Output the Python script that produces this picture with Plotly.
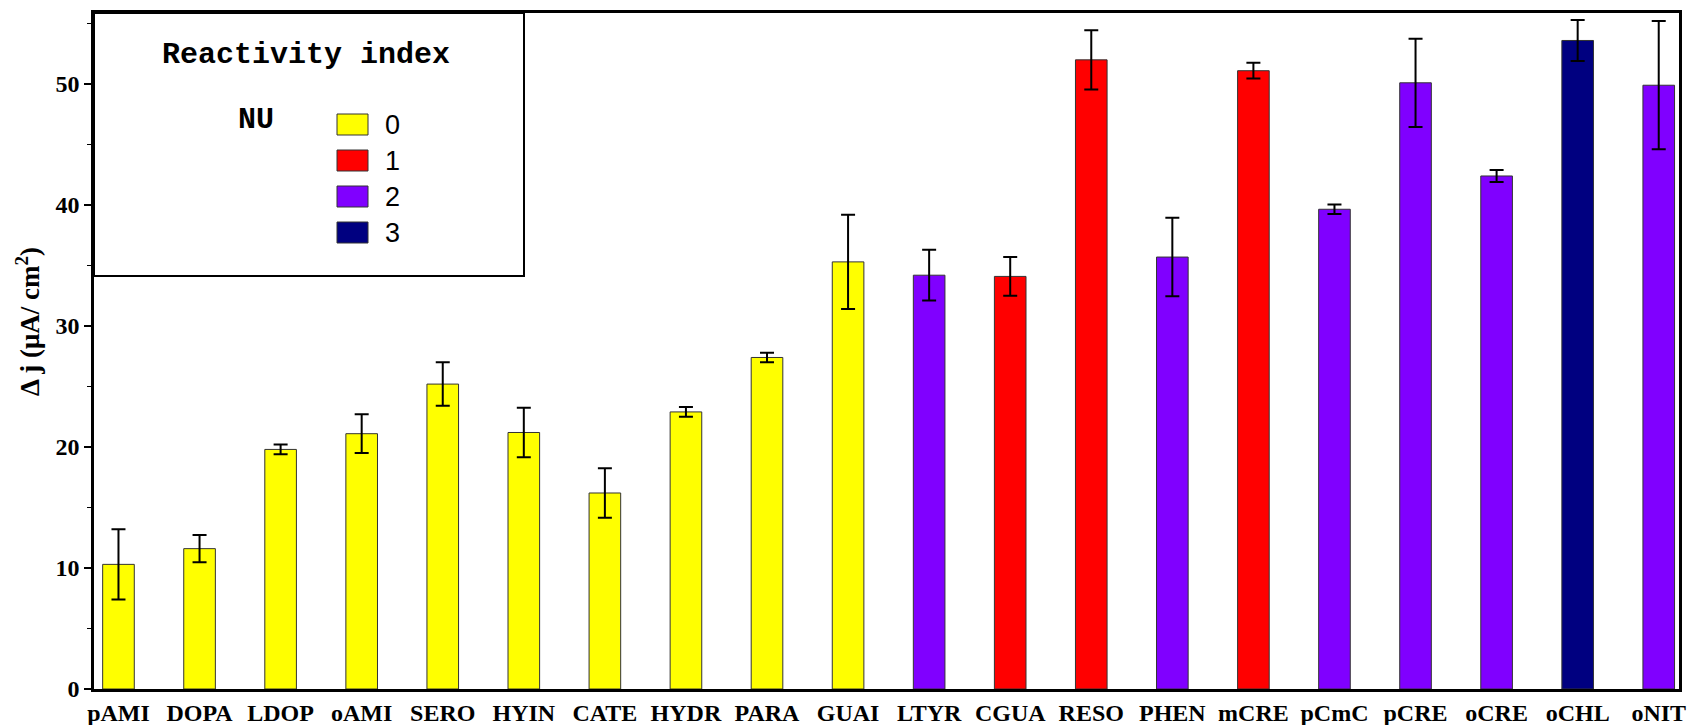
import plotly.graph_objects as go

# ---- data ----
compounds = ["pAMI", "DOPA", "LDOP", "oAMI", "SERO", "HYIN", "CATE", "HYDR", "PARA", "GUAI",
             "LTYR", "CGUA", "RESO", "PHEN", "mCRE", "pCmC", "pCRE", "oCRE", "oCHL", "oNIT"]
delta_j = [10.3, 11.6, 19.8, 21.1, 25.2, 21.2, 16.2, 22.9, 27.4, 35.3,
           34.2, 34.1, 52.0, 35.7, 51.1, 39.65, 50.1, 42.4, 53.6, 49.9]
errors = [2.9, 1.13, 0.4, 1.6, 1.8, 2.05, 2.05, 0.4, 0.4, 3.9,
          2.1, 1.6, 2.45, 3.25, 0.65, 0.4, 3.65, 0.5, 1.7, 5.3]
nu_index = [0, 0, 0, 0, 0, 0, 0, 0, 0, 0,
            2, 1, 1, 2, 1, 2, 2, 2, 3, 2]
nu_levels = ["0", "1", "2", "3"]
nu_colors = ["#FFFF00", "#FF0000", "#8000FF", "#000080"]
y_ticks = [0, 10, 20, 30, 40, 50]

# ---- geometry (pixels) ----
W, H = 1688, 725
L, R, T, B = 94, 1679, 13, 689


def px(x):
    return (x - L) / (R - L)


def py(y):
    return (B - y) / (B - T)


fig = go.Figure()
fig.add_trace(go.Bar(
    x=compounds, y=delta_j, width=0.39,
    marker=dict(color=[nu_colors[i] for i in nu_index], line=dict(color="#333333", width=1)),
    error_y=dict(type="data", array=errors, visible=True, color="black", thickness=2, width=7),
    showlegend=False,
))

fig.update_layout(
    width=W, height=H,
    margin=dict(l=L, r=W - R, t=T, b=H - B, autoexpand=False),
    paper_bgcolor="white", plot_bgcolor="white",
    xaxis=dict(type="category", range=[-0.302, 19.25], showline=True, linecolor="black",
               linewidth=3, mirror=True, ticks="", showgrid=False, zeroline=False,
               automargin=False,
               tickfont=dict(family="Liberation Serif", size=24, color="black", weight="bold")),
    yaxis=dict(range=[0, 55.87], tickvals=y_ticks, showline=True, linecolor="black",
               linewidth=2.5, mirror=True, ticks="outside", ticklen=7, tickwidth=1.5,
               tickcolor="black", showgrid=False, zeroline=False, automargin=False,
               minor=dict(dtick=5, tick0=5, ticks="outside", ticklen=4, tickwidth=1.2,
                          tickcolor="black", showgrid=False),
               tickfont=dict(family="Liberation Serif", size=24, color="black", weight="bold")),
)

shapes = []
annotations = []
# legend box
shapes.append(dict(type="rect", xref="paper", yref="paper", x0=px(L), x1=px(524), y0=py(276), y1=py(T),
                   line=dict(color="black", width=2), fillcolor="white", layer="above"))
annotations.append(dict(xref="paper", yref="paper", x=px(306), y=py(55), text="<b>Reactivity index</b>",
                        showarrow=False, xanchor="center", yanchor="middle",
                        font=dict(family="Liberation Mono", size=30, color="black")))
annotations.append(dict(xref="paper", yref="paper", x=px(256), y=py(120), text="<b>NU</b>",
                        showarrow=False, xanchor="center", yanchor="middle",
                        font=dict(family="Liberation Mono", size=30, color="black")))
sw_top = [114, 150, 186, 222]
for lvl, col, t in zip(nu_levels, nu_colors, sw_top):
    shapes.append(dict(type="rect", xref="paper", yref="paper", x0=px(337), x1=px(368),
                       y0=py(t + 21), y1=py(t), line=dict(color="#333333", width=1),
                       fillcolor=col, layer="above"))
    annotations.append(dict(xref="paper", yref="paper", x=px(383), y=py(t + 11), text=lvl,
                            showarrow=False, xanchor="left", yanchor="middle",
                            font=dict(family="Liberation Sans", size=27, color="black")))

# y-axis title
annotations.append(dict(xref="paper", yref="paper", x=px(28), y=py(322),
                        text="<b>Δ j (μA/ cm<sup>2</sup>)</b>", textangle=-90, showarrow=False,
                        xanchor="center", yanchor="middle",
                        font=dict(family="Liberation Serif", size=27, color="black")))

fig.update_layout(shapes=shapes, annotations=annotations)
fig.write_html("out.html")
